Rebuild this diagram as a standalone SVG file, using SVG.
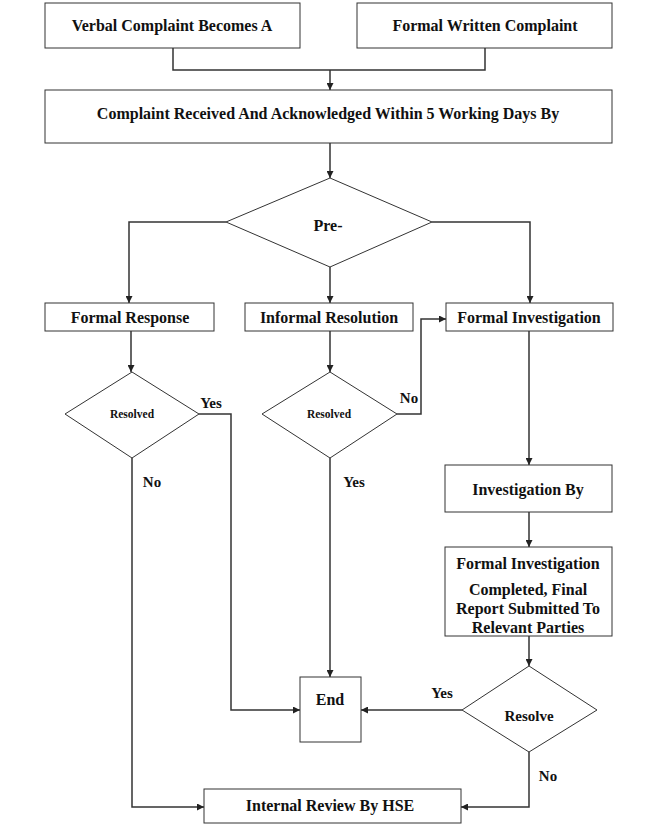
<svg xmlns="http://www.w3.org/2000/svg" width="660" height="835" viewBox="0 0 660 835">
<defs>
<marker id="ah" viewBox="0 0 10 10" refX="10" refY="5" markerWidth="7" markerHeight="7" markerUnits="userSpaceOnUse" orient="auto">
<path d="M0,0 L10,5 L0,10 z" fill="#222"/>
</marker>
<style>
.box{fill:#fff;stroke:#333;stroke-width:1}
.t{font-family:"Liberation Serif","Times New Roman",serif;font-weight:bold;font-size:16px;fill:#111;text-anchor:middle}
.s{font-size:11.5px}
.l{font-size:15px}
.c{fill:none;stroke:#333;stroke-width:1.5}
.a{marker-end:url(#ah)}
</style>
</defs>
<rect width="660" height="835" fill="#fff"/>
<g id="connectors">
<path class="c" d="M173,48 V70 H485 V48"/>
<path class="c a" d="M330,70 V90"/>
<path class="c a" d="M330,143 V178"/>
<path class="c a" d="M226,222 H129 V303"/>
<path class="c a" d="M330,267 V303"/>
<path class="c a" d="M432,222 H530 V303"/>
<path class="c a" d="M131,331 V372"/>
<path class="c a" d="M330,331 V372"/>
<path class="c a" d="M397,414 H421 V319 H446"/>
<path class="c a" d="M199,414 H231 V710 H300"/>
<path class="c a" d="M330,458 V677"/>
<path class="c a" d="M132,458 V807 H204"/>
<path class="c a" d="M529,331 V465"/>
<path class="c a" d="M529,512 V547"/>
<path class="c a" d="M529,636 V666"/>
<path class="c a" d="M462,710 H361"/>
<path class="c a" d="M529,752 V807 H461"/>
</g>
<g id="verbal"><rect class="box" x="45" y="3" width="255" height="45"/><text class="t" x="172" y="31">Verbal Complaint Becomes A</text></g>
<g id="written"><rect class="box" x="357" y="3" width="255" height="45"/><text class="t" x="485" y="31">Formal Written Complaint</text></g>
<g id="received"><rect class="box" x="45" y="90" width="567" height="53"/><text class="t" x="328" y="119">Complaint Received And Acknowledged Within 5 Working Days By</text></g>
<g id="pre"><polygon class="box" points="330,178 432,222 330,267 226,222"/><text class="t" x="328" y="231">Pre-</text></g>
<g id="formal-response"><rect class="box" x="45" y="303" width="169" height="28"/><text class="t" x="130" y="323">Formal Response</text></g>
<g id="informal-resolution"><rect class="box" x="245" y="303" width="168" height="28"/><text class="t" x="329" y="323">Informal Resolution</text></g>
<g id="formal-investigation"><rect class="box" x="446" y="303" width="167" height="28"/><text class="t" x="529" y="323">Formal Investigation</text></g>
<g id="resolved1"><polygon class="box" points="132,372 199,414 132,458 65,414"/><text class="t s" x="132" y="418">Resolved</text></g>
<g id="resolved2"><polygon class="box" points="330,372 397,414 330,458 262,414"/><text class="t s" x="329" y="418">Resolved</text></g>
<g id="investigation-by"><rect class="box" x="445" y="465" width="167" height="47"/><text class="t" x="528" y="495">Investigation By</text></g>
<g id="completed"><rect class="box" x="445" y="547" width="167" height="89"/>
<text class="t" x="528" y="569">Formal Investigation</text>
<text class="t" x="528" y="595">Completed, Final</text>
<text class="t" x="528" y="614">Report Submitted To</text>
<text class="t" x="528" y="633">Relevant Parties</text></g>
<g id="end"><rect class="box" x="300" y="677" width="61" height="65"/><text class="t" x="330" y="705">End</text></g>
<g id="resolve"><polygon class="box" points="529,666 597,710 529,752 462,710"/><text class="t l" x="529" y="721">Resolve</text></g>
<g id="review"><rect class="box" x="204" y="789" width="257" height="34"/><text class="t" x="330" y="811">Internal Review By HSE</text></g>
<g id="labels">
<text class="t l" x="211" y="408">Yes</text>
<text class="t l" x="152" y="487">No</text>
<text class="t l" x="409" y="403">No</text>
<text class="t l" x="354" y="487">Yes</text>
<text class="t l" x="442" y="698">Yes</text>
<text class="t l" x="548" y="781">No</text>
</g>
</svg>
